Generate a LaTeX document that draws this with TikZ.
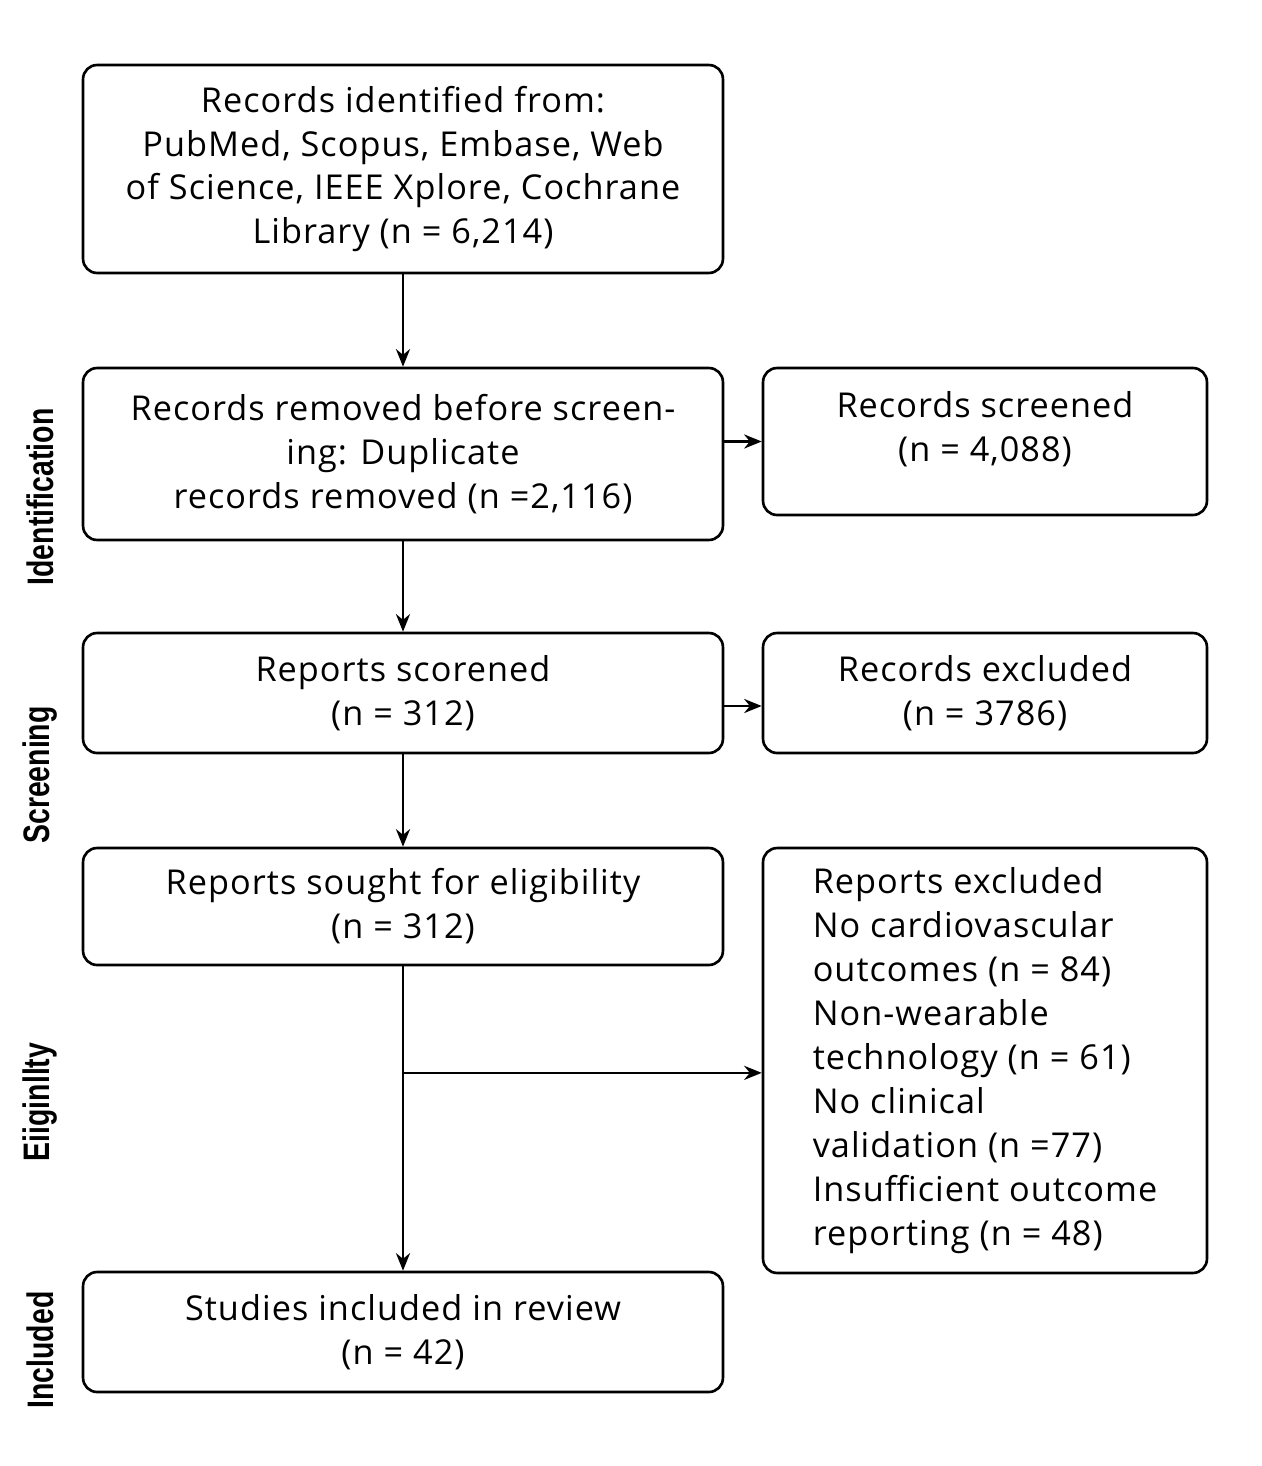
\documentclass[tikz,border=0pt]{standalone}
\usepackage{fontspec}
\setmainfont[LetterSpace=3]{Open Sans}
\newfontfamily\phasefont{Liberation Sans}
\usetikzlibrary{arrows.meta,calc}

\begin{document}
\begin{tikzpicture}[x=0.02cm,y=-0.02cm,>={Stealth[length=10pt,width=8pt]},line width=1.5pt]

  % Canvas with the proportions of the original figure
  \fill[white] (0,0) rectangle (1261,1466);
  \useasboundingbox (0,0) rectangle (1261,1466);

  \tikzset{
    box/.style={draw,rounded corners=8pt,align=center,inner sep=0pt,
                font=\fontsize{19.5}{25}\selectfont},
    wide/.style={box,minimum width=12.8cm},
    side/.style={box,minimum width=8.88cm},
    phase/.style={rotate=90,font=\phasefont\bfseries\fontsize{21}{21}\selectfont}
  }

  % --- Main column ---
  \node[wide,minimum height=4.16cm] (ident) at (403,169) {%
    Records identified from:\\
    PubMed, Scopus, Embase, Web\\
    of Science, IEEE Xplore, Cochrane\\
    Library (n = 6,214)};
  \node[wide,minimum height=3.44cm] (dupl) at (403,454) {%
    Records removed before screen-\\
    ing: Duplicate\\
    records removed (n =2,116)};
  \node[wide,minimum height=2.4cm] (scored) at (403,693) {%
    Reports scorened\\ (n = 312)};
  \node[wide,minimum height=2.34cm] (sought) at (403,906.5) {%
    Reports sought for eligibility\\ (n = 312)};
  \node[wide,minimum height=2.4cm] (incl) at (403,1332) {%
    Studies included in review\\ (n = 42)};

  % --- Right column ---
  \node[side,minimum height=2.94cm,text depth=17pt] (screened) at (985,441.5) {%
    Records screened\\ (n = 4,088)};
  \node[side,minimum height=2.4cm] (recexcl) at (985,693) {%
    Records excluded\\ (n = 3786)};
  \node[side,minimum height=8.5cm,align=left] (repexcl) at (985,1060.5) {%
    Reports excluded\\
    No cardiovascular\\
    outcomes (n = 84)\\
    Non-wearable\\
    technology (n = 61)\\
    No clinical\\
    validation (n =77)\\
    Insufficient outcome\\
    reporting (n = 48)};

  % --- Phase labels ---
  \node[phase] (lid)  at (40,497)  {\scalebox{0.77}[1]{Identification}};
  \node[phase] (lscr) at (40,775)  {\scalebox{0.77}[1]{Screening}};
  \node[phase] (lel)  at (40,1102) {\scalebox{0.77}[1]{Eiiginllty}};
  \node[phase] (lin)  at (40,1350) {\scalebox{0.77}[1]{Included}};

  % --- Connectors ---
  \draw[->] (ident) -- (dupl);
  \draw[->] (dupl) -- (scored);
  \draw[->] (scored) -- (sought);
  \draw[->] (sought) -- (incl);
  \draw[->] (screened.west -| dupl.east) -- (screened.west);
  \draw[->] ([yshift=-0.26cm]scored.east) -- ([yshift=-0.26cm]recexcl.west);
  \coordinate (split) at ($(sought.south)!0.35!(incl.north)$);
  \draw[->] (split) -- (split -| repexcl.west);

\end{tikzpicture}
\end{document}
